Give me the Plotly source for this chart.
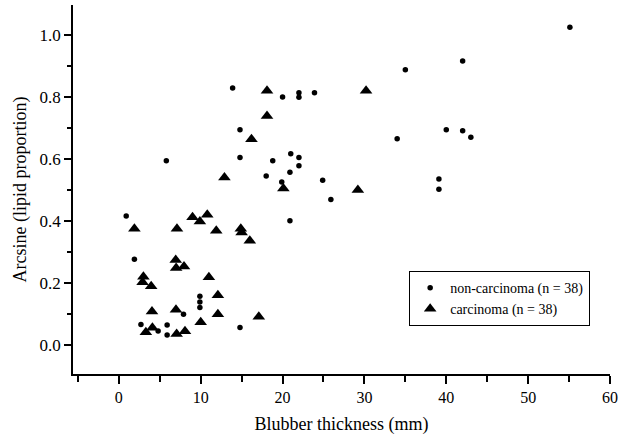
import plotly.graph_objects as go

# Non-carcinoma (circles)
nc_thickness = [55.1, 42.0, 40.0, 42.0, 43.0, 35.0, 34.0, 39.1, 39.1,
                20.0, 22.0, 22.0, 23.9, 13.9, 14.8, 14.8, 18.8, 21.0,
                22.0, 22.0, 20.9, 18.0, 19.9, 24.9, 25.9, 20.9, 5.8,
                0.9, 1.9, 9.9, 9.9, 9.9, 7.9, 14.8, 2.7, 4.8, 5.9, 5.9]
nc_arcsine = [1.025, 0.916, 0.694, 0.691, 0.670, 0.888, 0.665, 0.535, 0.502,
              0.800, 0.814, 0.799, 0.814, 0.829, 0.694, 0.605, 0.594, 0.617,
              0.605, 0.578, 0.557, 0.545, 0.526, 0.531, 0.469, 0.401, 0.594,
              0.416, 0.276, 0.157, 0.138, 0.121, 0.099, 0.056, 0.066, 0.045, 0.064, 0.032]

# Carcinoma (triangles)
c_thickness = [18.1, 30.2, 18.1, 16.2, 20.1, 29.2, 12.9, 1.9, 7.1, 9.0,
               9.9, 10.8, 11.9, 14.9, 15.0, 16.0, 6.95, 7.0, 7.96, 3.0,
               2.9, 3.95, 11.0, 12.1, 4.05, 6.98, 12.1, 10.0, 17.1, 3.3,
               4.1, 7.06, 8.08]
c_arcsine = [0.820, 0.820, 0.739, 0.664, 0.505, 0.500, 0.540, 0.375, 0.375, 0.412,
             0.398, 0.420, 0.368, 0.375, 0.363, 0.336, 0.274, 0.248, 0.253, 0.220,
             0.202, 0.189, 0.218, 0.160, 0.108, 0.113, 0.099, 0.073, 0.091, 0.041,
             0.055, 0.035, 0.044]

x_ticks = [0, 10, 20, 30, 40, 50, 60]
y_ticks = [0.0, 0.2, 0.4, 0.6, 0.8, 1.0]
y_tick_labels = ["0.0", "0.2", "0.4", "0.6", "0.8", "1.0"]

FONT = "Liberation Serif, Times New Roman, serif"

fig = go.Figure()
fig.add_trace(go.Scatter(
    x=nc_thickness, y=nc_arcsine, mode="markers",
    name="non-carcinoma (n = 38)",
    marker=dict(symbol="circle", size=5.5, color="black", line=dict(width=0)),
))
fig.add_trace(go.Scatter(
    x=c_thickness, y=c_arcsine, mode="markers",
    name="carcinoma (n = 38)",
    marker=dict(symbol="triangle-up", size=11, color="black", line=dict(width=0)),
))

fig.update_layout(
    width=619, height=437,
    margin=dict(l=73, r=9, t=5, b=63),
    paper_bgcolor="white", plot_bgcolor="white",
    font=dict(family=FONT, size=15, color="black"),
    showlegend=True,
    legend=dict(
        x=0.626, y=0.279, xanchor="left", yanchor="top",
        bordercolor="black", borderwidth=1, bgcolor="white",
        font=dict(family=FONT, size=14, color="black"),
        tracegroupgap=0,
    ),
    xaxis=dict(
        range=[-5.6, 60], tickvals=x_ticks, ticktext=[str(v) for v in x_ticks],
        showline=True, linecolor="black", linewidth=1.5,
        ticks="outside", ticklen=8, tickwidth=1.5, tickcolor="black",
        minor=dict(dtick=5, tick0=0, ticks="outside", ticklen=6, tickwidth=1.5, tickcolor="black"),
        showgrid=False, zeroline=False, automargin=False,
        title=dict(text="Blubber thickness (mm)", font=dict(size=18), standoff=12),
        tickfont=dict(size=16),
    ),
    yaxis=dict(
        range=[-0.094, 1.097], tickvals=y_ticks, ticktext=y_tick_labels,
        showline=True, linecolor="black", linewidth=1.5,
        ticks="outside", ticklen=7, tickwidth=1.5, tickcolor="black",
        minor=dict(dtick=0.1, tick0=0, ticks="outside", ticklen=4, tickwidth=1.5, tickcolor="black"),
        showgrid=False, zeroline=False, automargin=False,
        title=dict(text="Arcsine (lipid proportion)", font=dict(size=18), standoff=8),
        tickfont=dict(size=17),
    ),
)

fig.write_html("out.html", config={"displayModeBar": False},
               post_script="document.body.style.margin='0';")
